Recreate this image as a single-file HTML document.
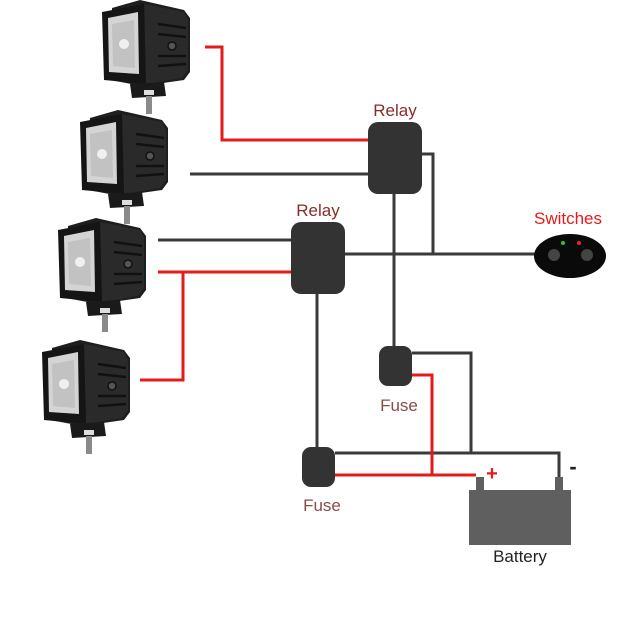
<!DOCTYPE html>
<html><head><style>
body{margin:0;background:#fff}
svg{display:block}
text{font-family:"Liberation Sans",sans-serif}
</style></head><body>
<svg width="640" height="640" viewBox="0 0 640 640">
<defs>
<g id="lamp">
  <path d="M10,4 L38,-4 L82,6 L88,14 L88,68 L82,76 L40,82 L8,76 Z" fill="#1e1e1e"/>
  <path d="M42,0 L82,8 L86,16 L86,66 L80,74 L44,80 Z" fill="#2a2a2a"/>
  <g stroke="#111" stroke-width="2.5">
    <line x1="56" y1="20" x2="84" y2="24"/><line x1="56" y1="30" x2="84" y2="33"/>
    <line x1="56" y1="52" x2="84" y2="52"/><line x1="56" y1="62" x2="84" y2="60"/>
  </g>
  <circle cx="70" cy="42" r="4" fill="#555" stroke="#111" stroke-width="1.5"/>
  <path d="M0,8 L42,0 L44,80 L2,76 Z" fill="#151515"/>
  <path d="M6,14 L36,8 L37,70 L7,68 Z" fill="#d4d4d4"/>
  <path d="M10,20 L32,16 L33,64 L11,62 Z" fill="#b0b0b0" opacity=".5"/>
  <circle cx="22" cy="40" r="5" fill="#f0f0f0"/>
  <path d="M28,80 L62,78 L64,92 L30,94 Z" fill="#1a1a1a"/>
  <rect x="42" y="86" width="10" height="5" fill="#ddd"/>
  <rect x="44" y="92" width="6" height="18" fill="#8a8a8a"/>
</g>
</defs>

<use href="#lamp" x="102" y="4"/>
<use href="#lamp" x="80" y="114"/>
<use href="#lamp" x="58" y="222"/>
<use href="#lamp" x="42" y="344"/>

<g fill="none" stroke-width="3" stroke-linejoin="miter">
  <polyline points="205,47 222,47 222,140 368,140" stroke="#e31b1b"/>
  <line x1="190" y1="174" x2="368" y2="174" stroke="#3a3a3a"/>
  <line x1="158" y1="240" x2="291" y2="240" stroke="#3a3a3a"/>
  <line x1="158" y1="272" x2="291" y2="272" stroke="#e31b1b"/>
  <polyline points="140,380 183,380 183,272" stroke="#e31b1b"/>
  <line x1="345" y1="254" x2="540" y2="254" stroke="#3a3a3a"/>
  <polyline points="422,154 433,154 433,254" stroke="#3a3a3a"/>
  <line x1="394" y1="194" x2="394" y2="348" stroke="#3a3a3a"/>
  <line x1="317" y1="294" x2="317" y2="448" stroke="#3a3a3a"/>
  <polyline points="412,353 471,353 471,453" stroke="#3a3a3a"/>
  <polyline points="335,453 559,453 559,480" stroke="#3a3a3a"/>
  <polyline points="412,375 432,375 432,475" stroke="#e31b1b"/>
  <line x1="335" y1="475" x2="476" y2="475" stroke="#e31b1b"/>
</g>

<rect x="368" y="122" width="54" height="72" rx="10" fill="#333"/>
<rect x="291" y="222" width="54" height="72" rx="10" fill="#333"/>
<text x="395" y="116" font-size="17" fill="#8b2a2a" text-anchor="middle">Relay</text>
<text x="318" y="216" font-size="17" fill="#8b2a2a" text-anchor="middle">Relay</text>

<ellipse cx="570" cy="256" rx="36" ry="22" fill="#0a0a0a"/>
<circle cx="554" cy="255" r="6" fill="#444"/>
<circle cx="587" cy="255" r="6" fill="#444"/>
<circle cx="563" cy="243" r="2" fill="#2c2"/>
<circle cx="579" cy="243" r="2" fill="#e22"/>
<text x="568" y="224" font-size="17" fill="#e31b1b" text-anchor="middle">Switches</text>

<rect x="379" y="346" width="33" height="40" rx="9" fill="#333"/>
<rect x="302" y="447" width="33" height="40" rx="9" fill="#333"/>
<text x="399" y="411" font-size="17" fill="#8b4a4a" text-anchor="middle">Fuse</text>
<text x="322" y="511" font-size="17" fill="#8b4a4a" text-anchor="middle">Fuse</text>

<rect x="476" y="477" width="8" height="14" fill="#5f5f5f"/>
<rect x="555" y="477" width="8" height="14" fill="#5f5f5f"/>
<rect x="469" y="490" width="102" height="55" fill="#5f5f5f"/>
<text x="492" y="480" font-size="20" font-weight="bold" fill="#e31b1b" text-anchor="middle">+</text>
<text x="573" y="474" font-size="22" font-weight="bold" fill="#222" text-anchor="middle">-</text>
<text x="520" y="562" font-size="17" fill="#222" text-anchor="middle">Battery</text>
</svg>
</body></html>
